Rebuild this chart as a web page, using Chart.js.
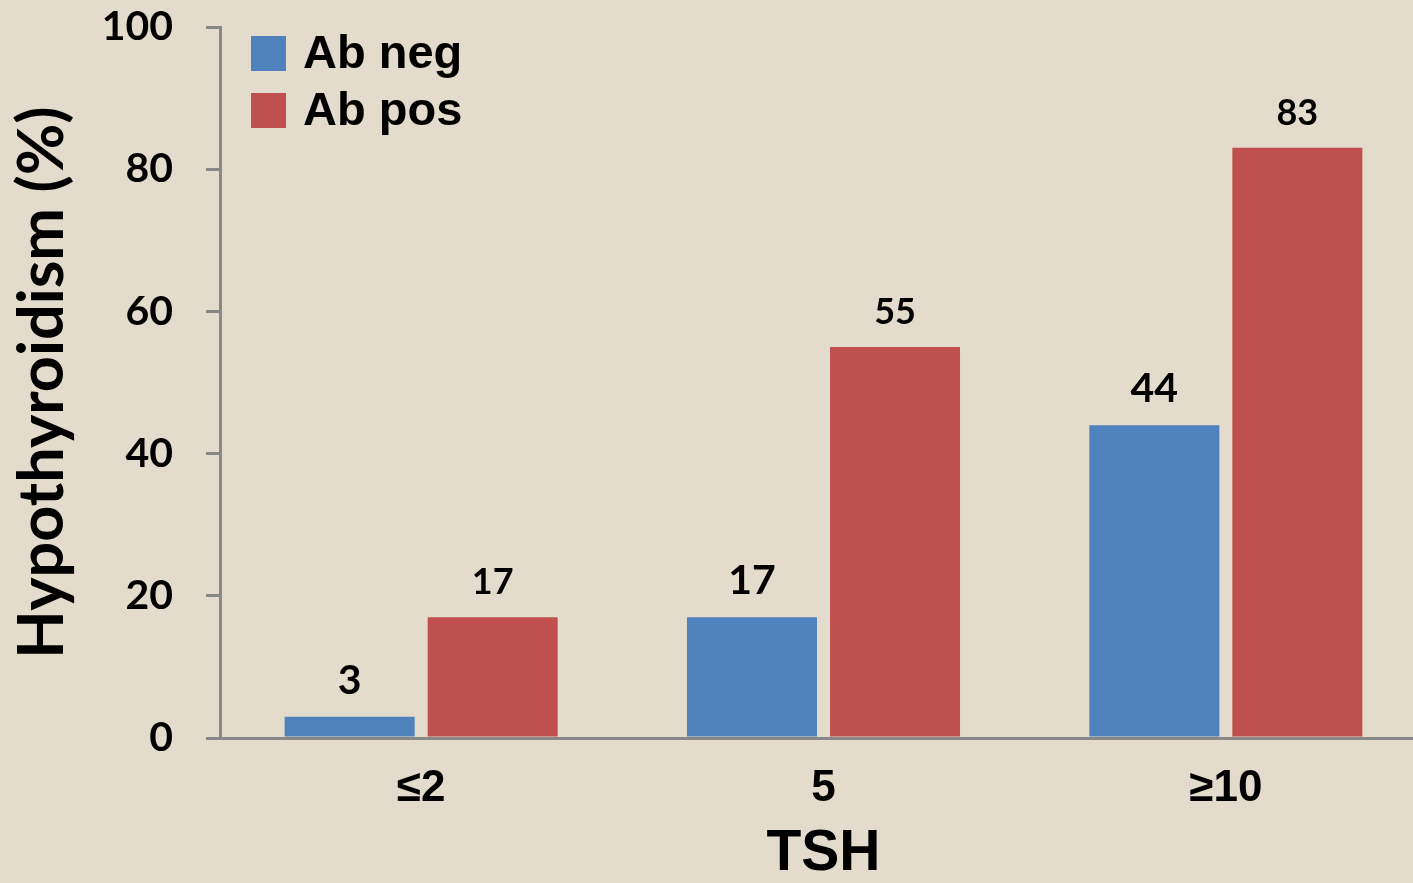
<!DOCTYPE html>
<html>
<head>
<meta charset="utf-8">
<script src="https://cdn.jsdelivr.net/npm/chart.js@4.4.0/dist/chart.umd.min.js"></script>
<style>
  html, body { margin: 0; padding: 0; background: #e3dbcc; overflow: hidden; }
  canvas { display: block; }
</style>
</head>
<body>
<canvas id="my-chart" width="1440" height="883"></canvas>
<script>
const tshLevels = ['≤2', '5', '≥10'];
const abNeg = [3, 17, 44];
const abPos = [17, 55, 83];
const yTicks = [0, 20, 40, 60, 80, 100];

// value labels above each bar (blue ones a bit bigger, as in the slide)
const barLabels = {
  id: 'barLabels',
  afterDatasetsDraw(chart, args, opts) {
    const ctx = chart.ctx;
    ctx.save();
    ctx.fillStyle = '#000';
    ctx.textAlign = 'center';
    ctx.textBaseline = 'alphabetic';
    chart.data.datasets.forEach((ds, i) => {
      ctx.font = 'bold ' + opts.sizes[i] + 'px Lato';
      chart.getDatasetMeta(i).data.forEach((bar, j) => {
        ctx.fillText(ds.data[j], bar.x, bar.y - opts.gap);
      });
    });
    ctx.restore();
  }
};

// square legend inside the plot, top left
const boxLegend = {
  id: 'boxLegend',
  afterDraw(chart) {
    const ctx = chart.ctx;
    const left = chart.chartArea.left + 31;
    ctx.save();
    ctx.font = 'bold 47px "Liberation Sans"';
    ctx.textBaseline = 'middle';
    chart.data.datasets.forEach((ds, i) => {
      const y = 36 + i * 57;
      ctx.fillStyle = ds.backgroundColor;
      ctx.fillRect(left, y, 35, 35);
      ctx.fillStyle = '#000';
      ctx.fillText(ds.label, left + 52, y + 19);
    });
    ctx.restore();
  }
};

const ctx = document.getElementById('my-chart');
const myChart = new Chart(ctx, {
  type: 'bar',
  data: {
    labels: tshLevels,
    datasets: [
      {
        data: abNeg,
        label: 'Ab neg',
        backgroundColor: '#4f81bd'
      },
      {
        data: abPos,
        label: 'Ab pos',
        backgroundColor: '#c0504d'
      }
    ]
  },
  options: {
    responsive: false,
    animation: false,
    devicePixelRatio: 1,
    barPercentage: 0.909,
    categoryPercentage: 0.711,
    layout: { padding: { top: 27, right: 13, left: 0, bottom: 0 } },
    plugins: {
      legend: { display: false },
      tooltip: { enabled: false },
      barLabels: { sizes: [41, 36], gap: 23 }
    },
    scales: {
      x: {
        grid: { display: false, drawTicks: false },
        border: { display: true, color: '#888888', width: 3 },
        ticks: {
          color: '#000',
          font: { family: 'Liberation Sans', size: 44, weight: 'bold' },
          padding: 24,
          maxRotation: 0
        },
        title: {
          display: true,
          text: 'TSH',
          color: '#000',
          font: { family: 'Liberation Sans', size: 57, weight: 'bold', lineHeight: 1 },
          padding: 0
        },
        afterFit(scale) { scale.height = 145; }
      },
      y: {
        min: 0,
        max: 100,
        afterBuildTicks(scale) { scale.ticks = yTicks.map(v => ({ value: v })); },
        grid: { drawOnChartArea: false, drawTicks: true, tickLength: 14, color: '#888888', lineWidth: 3 },
        border: { color: '#888888', width: 3 },
        ticks: {
          color: '#000',
          font: { family: 'Lato', size: 41, weight: 'bold' },
          padding: 33
        },
        title: {
          display: true,
          text: 'Hypothyroidism (%)',
          color: '#000',
          font: { family: 'Lato', size: 63, weight: 'bold', lineHeight: 1.2 },
          padding: { top: 5, bottom: 0 }
        },
        afterFit(scale) {
          scale.width = 220;
          scale.paddingTop = 0;
          scale.paddingBottom = 0;
        }
      }
    }
  },
  plugins: [barLabels, boxLegend]
});
</script>
</body>
</html>
